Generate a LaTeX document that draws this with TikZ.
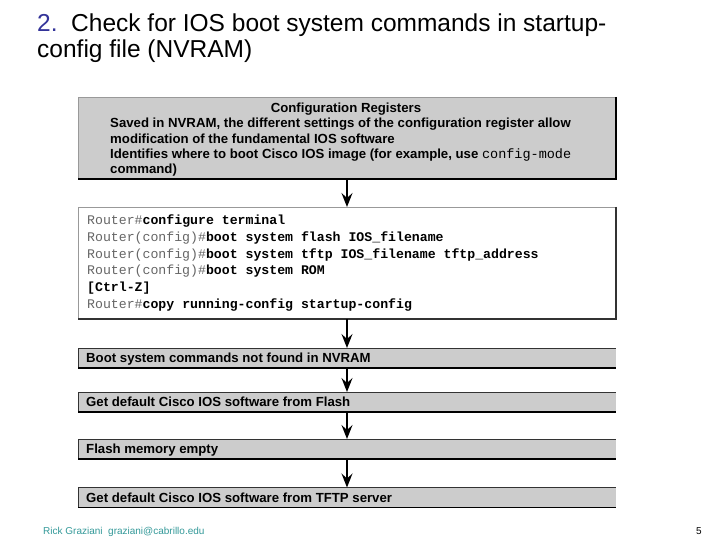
\documentclass[tikz,border=0pt]{standalone}
\usepackage{fontspec}
\setmainfont{Liberation Sans}
\setmonofont{Liberation Mono}
\usetikzlibrary{arrows.meta}
\definecolor{boxgray}{HTML}{CCCCCC}
\definecolor{titleblue}{HTML}{333399}
\definecolor{footteal}{HTML}{339999}
\definecolor{promptgray}{HTML}{666666}
\definecolor{edgegray}{HTML}{999999}
\tikzset{
  panel/.style={inner sep=0pt, outer sep=0pt, minimum width=538pt},
  graypanel/.style={panel, fill=boxgray},
  boxtext/.style={inner sep=0pt, anchor=base west, font=\fontsize{13.2}{15}\selectfont\bfseries},
  codetext/.style={inner sep=0pt, anchor=base west, font=\fontsize{13.2}{16}\selectfont\ttfamily},
  titletext/.style={inner sep=0pt, anchor=base west, font=\fontsize{24.5}{26}\selectfont},
  flow/.style={line width=1.5pt, -{Stealth[length=14pt, width=11pt, inset=5pt]}},
}
\newcommand{\prm}[1]{{\color{promptgray}\mdseries #1}}
\begin{document}
\begin{tikzpicture}[x=1pt, y=-1pt]
\useasboundingbox[fill=white] (0,0) rectangle (720,540);

% title
\node[titletext] (t1) at (37,31.5) {{\color{titleblue}2.}\ \ Check for IOS boot system commands in startup-};
\node[titletext] (t2) at (37,58) {config file (NVRAM)};

% box 1
\node[graypanel, minimum height=82pt] (b1) at (347,138) {};
\draw[edgegray, line width=0.6pt] (b1.south west) -- (b1.north west) -- (b1.north east);
\draw[black, line width=1.2pt] (b1.north east) -- (b1.south east) -- (b1.south west);
\node[boxtext, anchor=base] (b1t0) at (346,112.5) {Configuration Registers};
\node[boxtext] (b1t1) at (110,128) {Saved in NVRAM, the different settings of the configuration register allow};
\node[boxtext] (b1t2) at (110,143.5) {modification of the fundamental IOS software};
\node[boxtext] (b1t3) at (110,159) {Identifies where to boot Cisco IOS image (for example, use {\mdseries\ttfamily\fontsize{13.5}{15}\selectfont config-mode}};
\node[boxtext] (b1t4) at (110,174) {command)};

% box 2
\node[panel, fill=white, minimum height=112pt] (b2) at (347,263) {};
\draw[edgegray, line width=0.8pt] (b2.south west) -- (b2.north west) -- (b2.north east);
\draw[black!80, line width=1.2pt] (b2.north east) -- (b2.south east) -- (b2.south west);
\node[codetext] (c1) at (87,224.5) {\prm{Router\#}\textbf{configure terminal}};
\node[codetext] (c2) at (87,241.3) {\prm{Router(config)\#}\textbf{boot system flash IOS\_filename}};
\node[codetext] (c3) at (87,258.1) {\prm{Router(config)\#}\textbf{boot system tftp IOS\_filename tftp\_address}};
\node[codetext] (c4) at (87,274.9) {\prm{Router(config)\#}\textbf{boot system ROM}};
\node[codetext] (c5) at (87,291.7) {\textbf{[Ctrl-Z]}};
\node[codetext] (c6) at (87,308.5) {\prm{Router\#}\textbf{copy running-config startup-config}};

% small boxes
\foreach \nm/\cy in {b3/358, b4/402, b5/449, b6/497.5}{
  \node[graypanel, minimum height=20pt] (\nm) at (347,\cy) {};
  \draw[black!80, line width=0.7pt] (\nm.south west) -- (\nm.north west) -- (\nm.north east);
  \draw[black, line width=1.2pt] (\nm.south west) -- (\nm.south east);
}
\node[boxtext] (b3t) at (86,362.5) {Boot system commands not found in NVRAM};
\node[boxtext] (b4t) at (86,406.5) {Get default Cisco IOS software from Flash};
\node[boxtext] (b5t) at (86,453.5) {Flash memory empty};
\node[boxtext] (b6t) at (86,502) {Get default Cisco IOS software from TFTP server};

% arrows
\draw[flow] (b1) -- (b2);
\draw[flow] (b2) -- (b3);
\draw[flow] (b3) -- (b4);
\draw[flow] (b4) -- (b5);
\draw[flow] (b5) -- (b6);

% footer
\node[inner sep=0pt, anchor=base west, font=\fontsize{10}{11}\selectfont, text=footteal] (ft) at (43,534.5) {Rick Graziani\ \ graziani@cabrillo.edu};
\node[inner sep=0pt, anchor=base east, font=\fontsize{10}{11}\selectfont] (pg) at (702,534.5) {5};
\end{tikzpicture}
\end{document}
